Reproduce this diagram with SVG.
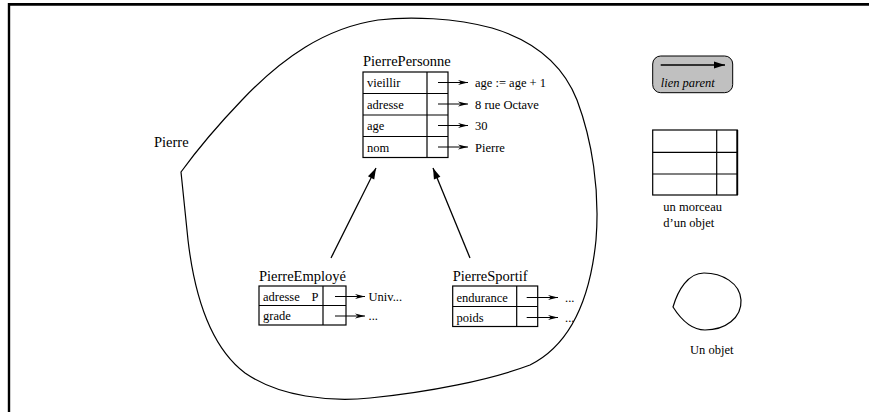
<svg xmlns="http://www.w3.org/2000/svg" width="869" height="412" viewBox="0 0 869 412" font-family="'Liberation Serif','Times New Roman',serif">
<style>
text{font-family:"Liberation Serif","Times New Roman",serif;fill:#000}
.t{font-size:14.5px}
.f{font-size:12.5px}
.cell{fill:#fff;stroke:#000;stroke-width:1.2}
.ln{stroke:#000;stroke-width:1.2;fill:none}
.blob{fill:none;stroke:#000;stroke-width:1.2}
.sa{stroke:#000;stroke-width:1;fill:none;marker-end:url(#small)}
.pa{stroke:#000;stroke-width:1.3;fill:none;marker-end:url(#big)}
</style>
<defs>
<marker id="small" markerUnits="userSpaceOnUse" markerWidth="12" markerHeight="6" refX="10" refY="2.5" orient="auto" overflow="visible">
<path d="M0,0 L10,2.5 L0,5 L3,2.5 Z" fill="#000"/>
</marker>
<marker id="big" markerUnits="userSpaceOnUse" markerWidth="12" markerHeight="8" refX="11" refY="3.5" orient="auto" overflow="visible">
<path d="M0,0 L11,3.5 L0,7 Z" fill="#000"/>
</marker>
</defs>
<rect width="869" height="412" fill="#fff"/>
<g id="frame">
<line x1="8" y1="4.3" x2="869" y2="4.3" stroke="#000" stroke-width="2.7"/>
<line x1="9" y1="3" x2="9" y2="412" stroke="#000" stroke-width="2.4"/>
</g>
<g id="pierre">
<path class="blob" d="M181,172 L188,240 C195,300 212,348 245,373 C280,397 330,402 370,398 C430,392 490,380 530,365 C570,345 590,300 596,240 C600,190 592,140 577,100 C562,62 532,40 492,28 C455,18 410,16 378,20 C325,28 282,58 242,100 C218,125 197,150 181,172 Z"/>
<text class="t" x="154" y="147">Pierre</text>
</g>
<g id="pierrePersonne">
<text class="t" x="363" y="66">PierrePersonne</text>
<rect class="cell" x="363" y="72" width="85" height="85.5"/>
<line class="ln" x1="363" y1="93.5" x2="448" y2="93.5"/>
<line class="ln" x1="363" y1="115" x2="448" y2="115"/>
<line class="ln" x1="363" y1="136.5" x2="448" y2="136.5"/>
<line class="ln" x1="427" y1="72" x2="427" y2="157.5"/>
<text class="f" x="367" y="87">vieillir</text>
<text class="f" x="367" y="108.5">adresse</text>
<text class="f" x="367" y="130">age</text>
<text class="f" x="367" y="151.5">nom</text>
</g>
<g id="pierreEmploye">
<text class="t" x="259" y="281">PierreEmployé</text>
<rect class="cell" x="259" y="286" width="87" height="39"/>
<line class="ln" x1="259" y1="305.5" x2="346" y2="305.5"/>
<line class="ln" x1="323" y1="286" x2="323" y2="325"/>
<text class="f" x="263" y="300.5">adresse<tspan x="311.5">P</tspan></text>
<text class="f" x="263" y="320">grade</text>
</g>
<g id="pierreSportif">
<text class="t" x="452.7" y="281">PierreSportif</text>
<rect class="cell" x="452.7" y="286" width="85" height="40.5"/>
<line class="ln" x1="452.7" y1="306.5" x2="537.7" y2="306.5"/>
<line class="ln" x1="516.7" y1="286" x2="516.7" y2="326.5"/>
<text class="f" x="456.5" y="301.5">endurance</text>
<text class="f" x="456.5" y="321.5">poids</text>
</g>
<g id="values">
<text class="f" x="475" y="87">age := age + 1</text>
<text class="f" x="475" y="108.5">8 rue Octave</text>
<text class="f" x="475" y="130">30</text>
<text class="f" x="475" y="151.5">Pierre</text>
<text class="f" x="368.5" y="301">Univ...</text>
<text class="f" x="368.5" y="320">...</text>
<text class="f" x="565" y="302">...</text>
<text class="f" x="565" y="322">...</text>
</g>
<g id="legend-lien">
<rect x="652.7" y="56" width="80" height="36.7" rx="8" fill="#c0c0c0" stroke="#000" stroke-width="1"/>
<line class="pa" x1="660.7" y1="65" x2="725" y2="65" stroke-width="1.1"/>
<text x="660.7" y="86.5" font-size="12.5" font-style="italic">lien parent</text>
</g>
<g id="legend-morceau">
<rect class="cell" x="652.7" y="130" width="84.6" height="65"/>
<line class="ln" x1="652.7" y1="152.3" x2="737.3" y2="152.3"/>
<line class="ln" x1="652.7" y1="174" x2="737.3" y2="174"/>
<line class="ln" x1="716.7" y1="130" x2="716.7" y2="195"/>
<line x1="737.3" y1="130" x2="737.3" y2="195" stroke="#000" stroke-width="1.8"/>
<text class="f" x="663.3" y="211">un morceau</text>
<text class="f" x="663.3" y="227">d’un objet</text>
</g>
<g id="legend-objet">
<path class="blob" d="M673,307 C678,290 688,273 704,273 C722,273 740,283 741,300 C742,318 725,330 705,330 C690,330 680,318 673,307 Z"/>
<text class="f" x="690" y="354">Un objet</text>
</g>
<g id="connectors">
<line class="sa" x1="438" y1="82.5" x2="468" y2="82.5"/>
<line class="sa" x1="438" y1="104" x2="468" y2="104"/>
<line class="sa" x1="438" y1="125.5" x2="468" y2="125.5"/>
<line class="sa" x1="438" y1="147" x2="468" y2="147"/>
<line class="sa" x1="335" y1="296.5" x2="365" y2="296.5"/>
<line class="sa" x1="335" y1="316" x2="365" y2="316"/>
<line class="sa" x1="526.7" y1="297.5" x2="558" y2="297.5"/>
<line class="sa" x1="526.7" y1="317.5" x2="558" y2="317.5"/>
<line class="pa" x1="331" y1="258" x2="376" y2="168"/>
<line class="pa" x1="470" y1="258" x2="433" y2="168"/>
</g>
</svg>
